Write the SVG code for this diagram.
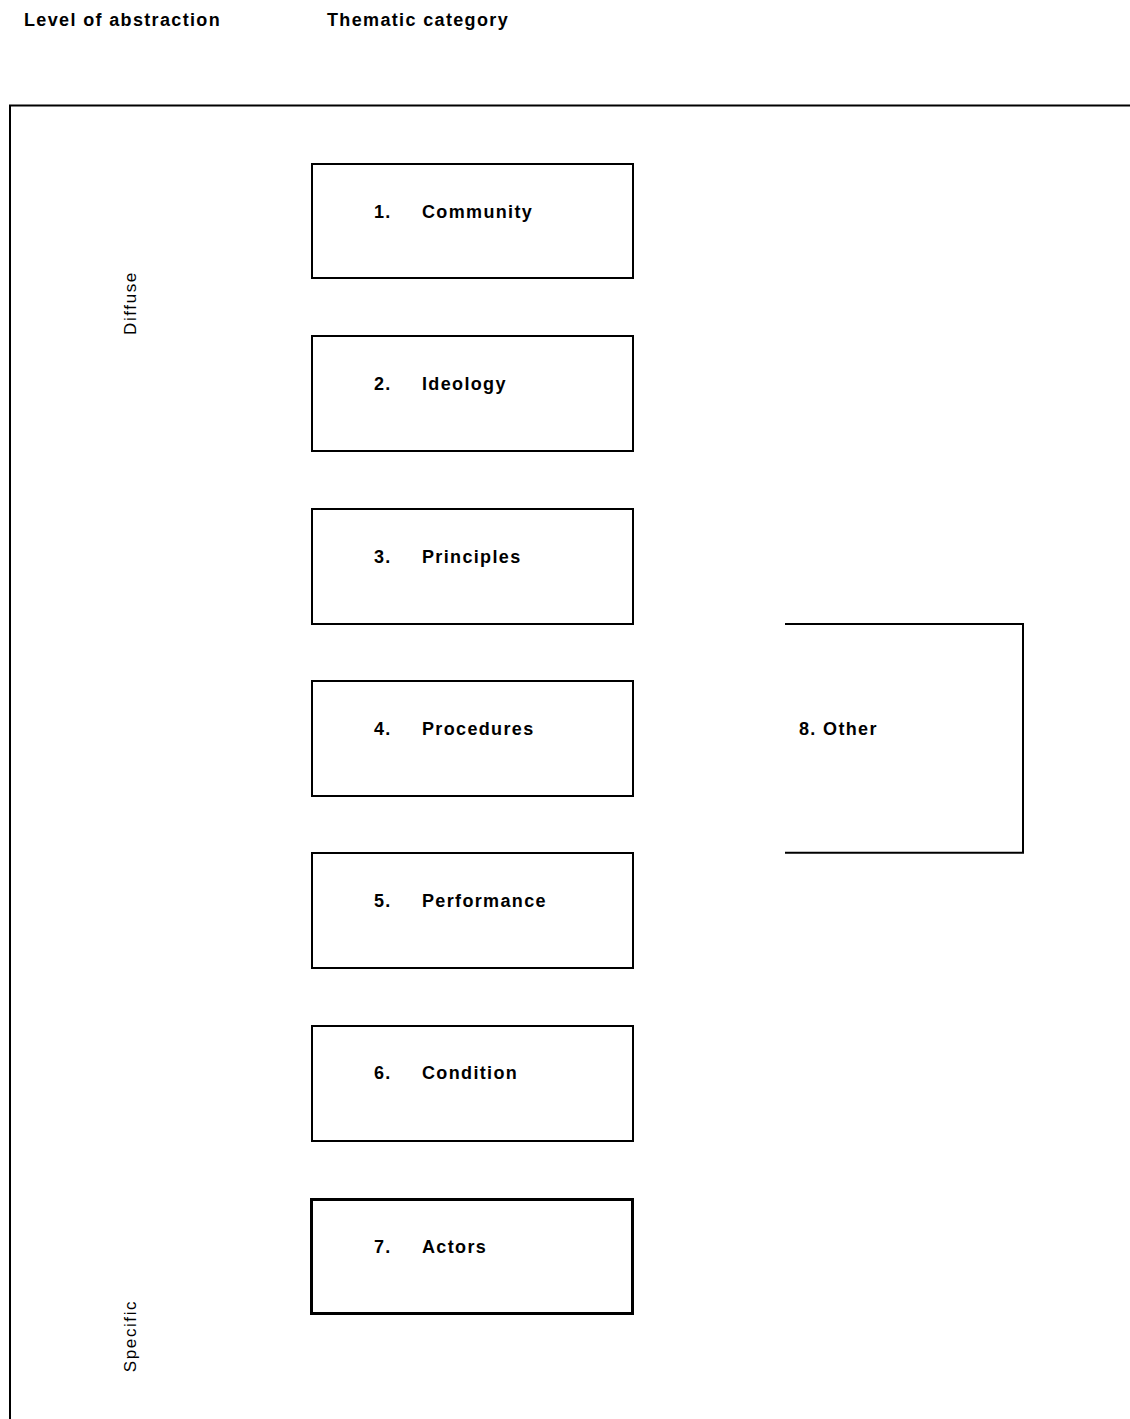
<svg xmlns="http://www.w3.org/2000/svg" width="1130" height="1419" viewBox="0 0 1130 1419">
<style>
.b{fill:#fff;stroke:#000;stroke-width:2}
.t{font-family:"Liberation Sans",Arial,sans-serif;font-weight:bold;font-size:18px;fill:#000;letter-spacing:1.35px}
.r{font-family:"Liberation Sans",Arial,sans-serif;font-size:17px;fill:#000;letter-spacing:1.6px}
.l{fill:none;stroke:#000;stroke-width:2}
</style>
<rect width="1130" height="1419" fill="#fff"/>
<text class="t" x="24" y="26">Level of abstraction</text>
<text class="t" x="327" y="26">Thematic category</text>
<g id="frame"><path class="l" d="M10,1419 V105.5 H1130"/></g>
<text class="r" transform="translate(136,303) rotate(-90)" text-anchor="middle">Diffuse</text>
<text class="r" transform="translate(136,1336) rotate(-90)" text-anchor="middle">Specific</text>
<g id="n1"><rect class="b" x="312" y="164" width="321" height="114"/><text class="t" x="374" y="218">1.</text><text class="t" x="422" y="218">Community</text></g>
<g id="n2"><rect class="b" x="312" y="336" width="321" height="115"/><text class="t" x="374" y="390">2.</text><text class="t" x="422" y="390">Ideology</text></g>
<g id="n3"><rect class="b" x="312" y="509" width="321" height="115"/><text class="t" x="374" y="563">3.</text><text class="t" x="422" y="563">Principles</text></g>
<g id="n4"><rect class="b" x="312" y="681" width="321" height="115"/><text class="t" x="374" y="735">4.</text><text class="t" x="422" y="735">Procedures</text></g>
<g id="n5"><rect class="b" x="312" y="853" width="321" height="115"/><text class="t" x="374" y="907">5.</text><text class="t" x="422" y="907">Performance</text></g>
<g id="n6"><rect class="b" x="312" y="1026" width="321" height="115"/><text class="t" x="374" y="1079">6.</text><text class="t" x="422" y="1079">Condition</text></g>
<g id="n7"><rect class="b" x="311.5" y="1199.5" width="321" height="114" style="stroke-width:3"/><text class="t" x="374" y="1253">7.</text><text class="t" x="422" y="1253">Actors</text></g>
<g id="n8"><path class="l" d="M785,624 H1023 V852.7 H785"/><text class="t" x="799" y="735">8. Other</text></g>
<g id="connectors"></g>
</svg>
